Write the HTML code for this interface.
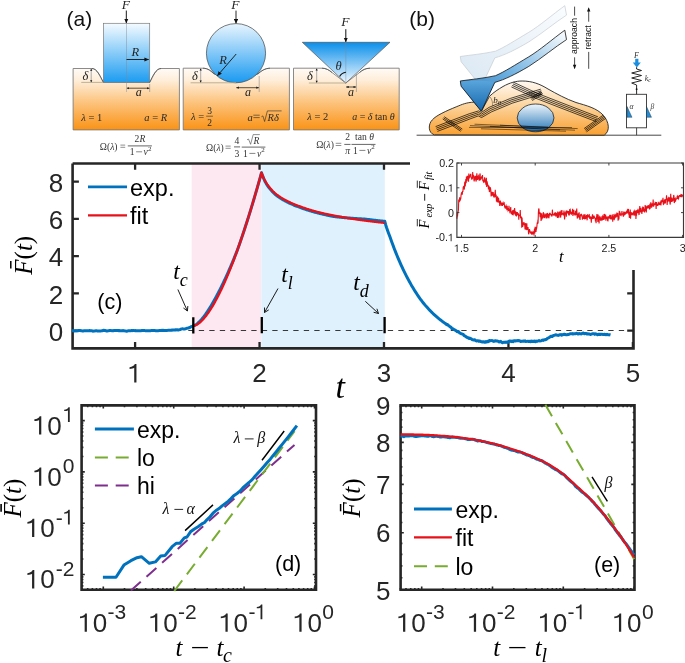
<!DOCTYPE html>
<html><head><meta charset="utf-8"><style>
html,body{margin:0;padding:0;background:#fff;}
svg{display:block;will-change:transform;}
text{font-family:'Liberation Sans',sans-serif;}
.sr{font-family:'Liberation Serif',serif;}
.it{font-style:italic;}
</style></head><body>
<svg width="685" height="663" viewBox="0 0 685 663">
<defs>
<linearGradient id="gOr" x1="0" y1="0" x2="0" y2="1"><stop offset="0" stop-color="#fffbf6"/><stop offset="0.2" stop-color="#feedd8"/><stop offset="0.55" stop-color="#fcc47e"/><stop offset="1" stop-color="#f99316"/></linearGradient>
<linearGradient id="gBl" x1="0" y1="0" x2="0" y2="1"><stop offset="0" stop-color="#f4fbff"/><stop offset="1" stop-color="#1c9cf0"/></linearGradient>
<linearGradient id="gBlS" x1="0" y1="0" x2="0" y2="1"><stop offset="0" stop-color="#e8f5fe"/><stop offset="1" stop-color="#1a9af0"/></linearGradient>
<linearGradient id="gBlC" x1="0" y1="0" x2="0" y2="1"><stop offset="0" stop-color="#0b8fea"/><stop offset="1" stop-color="#f2f9ff"/></linearGradient>
<linearGradient id="gCell" x1="0" y1="0" x2="0" y2="1"><stop offset="0" stop-color="#fffaf3"/><stop offset="0.4" stop-color="#fcd9a8"/><stop offset="1" stop-color="#f8a030"/></linearGradient>
<linearGradient id="gNuc" x1="0" y1="0" x2="0" y2="1"><stop offset="0" stop-color="#eef6fc"/><stop offset="1" stop-color="#2a78b8"/></linearGradient>
<linearGradient id="gCant" x1="1" y1="0" x2="0" y2="1"><stop offset="0" stop-color="#ffffff"/><stop offset="0.55" stop-color="#6aaee0"/><stop offset="1" stop-color="#1a6fb3"/></linearGradient>
<linearGradient id="gGhost" x1="1" y1="0" x2="0" y2="1"><stop offset="0" stop-color="#fbfdff"/><stop offset="0.6" stop-color="#e6eff7"/><stop offset="1" stop-color="#d9e7f3"/></linearGradient>
<linearGradient id="gTip" x1="0" y1="0" x2="0" y2="1"><stop offset="0" stop-color="#5aa5dc"/><stop offset="1" stop-color="#1567ad"/></linearGradient>
<marker id="ah" viewBox="0 0 10 10" refX="9" refY="5" markerWidth="5" markerHeight="5" orient="auto-start-reverse"><path d="M0,1 L10,5 L0,9 z" fill="#000"/></marker>
<marker id="ahF" viewBox="0 0 10 10" refX="9" refY="5" markerWidth="5.2" markerHeight="5.2" orient="auto-start-reverse"><path d="M0,0.5 L10,5 L0,9.5 z" fill="#111"/></marker>
<marker id="ahs" viewBox="0 0 10 10" refX="9" refY="5" markerWidth="4" markerHeight="4" orient="auto-start-reverse"><path d="M0,1 L10,5 L0,9 z" fill="#222"/></marker>
</defs>

<text x="66.6" y="26.3" font-size="21" fill="#111">(a)</text>
<path d="M73.1,68.5 H92 C97,68.5 100,76 103.4,82.4 H149.7 C153,76 156,68.5 161,68.5 H179.4 V129.9 H73.1 Z" fill="url(#gOr)" stroke="#777" stroke-width="0.85"/>
<rect x="103.4" y="23.3" width="46.3" height="59.1" fill="url(#gBl)" stroke="#7a7a7a" stroke-width="0.7"/>
<path d="M183.2,68.2 H203 C208,68.2 211,71 214,74 L258,74 C261,71 265,68.2 270,68.2 H289.4 V129.9 H183.2 Z" fill="url(#gOr)" stroke="#777" stroke-width="0.85"/>
<circle cx="236" cy="53.2" r="29.6" fill="url(#gBlS)" stroke="#444" stroke-width="0.7"/>
<path d="M293.5,68.2 H322 C326,68.2 329,70 332,72.5 L345.8,83 L359.5,72.5 C362.5,70 365.5,68.2 370,68.2 H399.2 V129.9 H293.5 Z" fill="url(#gOr)" stroke="#777" stroke-width="0.85"/>
<path d="M302.3,42.3 H390 L345.8,83 Z" fill="url(#gBlC)" stroke="#555" stroke-width="0.7"/>
<path d="M92,68.5 C97,68.5 100,76 103.4,82.4 M149.7,82.4 C153,76 156,68.5 161,68.5 M203,68.2 C208,68.2 211,71 214.5,74.3 M257.5,74.3 C261,71 265,68.2 270,68.2 M322,68.2 C326,68.2 329,70 332,72.5 M359.5,72.5 C362.5,70 365.5,68.2 370,68.2" stroke="#444" stroke-width="0.65" fill="none"/>
<path d="M126.5,11 V92 M345.8,29.2 V84" stroke="#7a8a9a" stroke-width="0.45" fill="none"/>
<path d="M126.3,10.5 V22.9" stroke="#111" stroke-width="0.9" fill="none" marker-end="url(#ahF)"/>
<path d="M236,10.6 V23.2" stroke="#111" stroke-width="0.9" fill="none" marker-end="url(#ahF)"/>
<path d="M345.8,29.2 V41.8" stroke="#111" stroke-width="0.9" fill="none" marker-end="url(#ahF)"/>
<text x="121.8" y="8.8" font-size="13.5" class="sr it" fill="#222">F</text>
<text x="231.2" y="8.6" font-size="13.5" class="sr it" fill="#222">F</text>
<text x="341.3" y="26.4" font-size="13.5" class="sr it" fill="#222">F</text>
<path d="M126.5,59.5 H148.6" stroke="#111" stroke-width="0.9" marker-end="url(#ahF)"/>
<text x="131.6" y="55.5" font-size="12.5" class="sr it" fill="#222">R</text>
<path d="M236.2,54 L217.5,75.6" stroke="#111" stroke-width="0.9" marker-end="url(#ahF)"/>
<text x="219.3" y="63.5" font-size="12.5" class="sr it" fill="#222">R</text>
<path d="M339.6,76.6 A8,8 0 0 1 345.9,72.2" stroke="#111" stroke-width="1.1" fill="none"/>
<text x="335.6" y="69.8" font-size="12.5" class="sr it" fill="#222">θ</text>
<path d="M81.3,82.4 H103.4" stroke="#b8a88c" stroke-width="0.9"/>
<path d="M91.2,68.8 V82.10000000000001" stroke="#8a8a8a" stroke-width="0.7"/>
<path d="M90.10000000000001,70.7 L91.2,68.7 L92.3,70.7 Z M90.10000000000001,80.2 L91.2,82.2 L92.3,80.2 Z" fill="#111"/>
<text x="82.6" y="79.8" font-size="12.5" class="sr it" fill="#222">δ</text>
<path d="M190.6,82.8 H236" stroke="#b8a88c" stroke-width="0.9"/>
<path d="M200.7,68.5 V82.5" stroke="#8a8a8a" stroke-width="0.7"/>
<path d="M199.6,70.4 L200.7,68.4 L201.79999999999998,70.4 Z M199.6,80.6 L200.7,82.6 L201.79999999999998,80.6 Z" fill="#111"/>
<text x="192.1" y="79.8" font-size="12.5" class="sr it" fill="#222">δ</text>
<path d="M308.9,83 H345.8" stroke="#b8a88c" stroke-width="0.9"/>
<path d="M316.7,68.5 V82.7" stroke="#8a8a8a" stroke-width="0.7"/>
<path d="M315.59999999999997,70.4 L316.7,68.4 L317.8,70.4 Z M315.59999999999997,80.8 L316.7,82.8 L317.8,80.8 Z" fill="#111"/>
<text x="307.1" y="79.8" font-size="12.5" class="sr it" fill="#222">δ</text>
<path d="M149.7,84 V92" stroke="#777" stroke-width="0.5"/>
<path d="M126.9,88.2 H149.29999999999998" stroke="#111" stroke-width="0.7" marker-start="url(#ahs)" marker-end="url(#ahs)"/>
<text x="135.7" y="95.9" font-size="12" class="sr it" fill="#222">a</text>
<path d="M259.2,76 V92" stroke="#777" stroke-width="0.5"/>
<path d="M236.4,87.7 H258.8" stroke="#111" stroke-width="0.7" marker-start="url(#ahs)" marker-end="url(#ahs)"/>
<text x="245.0" y="95.9" font-size="12" class="sr it" fill="#222">a</text>
<path d="M356.4,74 V92" stroke="#777" stroke-width="0.5"/>
<path d="M346.2,87 H356.0" stroke="#111" stroke-width="0.7" marker-start="url(#ahs)" marker-end="url(#ahs)"/>
<text x="347.9" y="95.9" font-size="12" class="sr it" fill="#222">a</text>
<text x="81.3" y="120.5" font-size="10.5" class="sr" text-anchor="start" fill="#2a2a2a"><tspan class="it">λ</tspan> = 1</text>
<text x="144.3" y="120.5" font-size="10.5" class="sr" text-anchor="start" fill="#2a2a2a"><tspan class="it">a</tspan> = <tspan class="it">R</tspan></text>
<text x="191.0" y="119.6" font-size="10.5" class="sr" text-anchor="start" fill="#2a2a2a"><tspan class="it">λ</tspan> =</text>
<text x="209.5" y="113.5" font-size="9.5" class="sr" text-anchor="middle" fill="#2a2a2a">3</text><path d="M206.2,116.2 H212.9" stroke="#2a2a2a" stroke-width="0.6"/><text x="209.5" y="126.1" font-size="9.5" class="sr" text-anchor="middle" fill="#2a2a2a">2</text>
<text x="247.6" y="120.5" font-size="10.5" class="sr it" text-anchor="start" fill="#2a2a2a">a</text><path d="M253.4,115.2 H259.7 M253.4,117.6 H259.7" stroke="#2a2a2a" stroke-width="0.6"/>
<path d="M261.4,116.8 L262.9,115.9 L264.6,121.5 L267.4,110.9 H281.6" stroke="#2a2a2a" stroke-width="0.6" fill="none"/>
<text x="267.6" y="120.5" font-size="10.5" class="sr it" text-anchor="start" fill="#2a2a2a">Rδ</text>
<text x="307.2" y="120.4" font-size="10.5" class="sr" text-anchor="start" fill="#2a2a2a"><tspan class="it">λ</tspan> = 2</text>
<text x="352.2" y="120.4" font-size="10.0" class="sr" text-anchor="start" fill="#2a2a2a"><tspan class="it">a</tspan> = <tspan class="it">δ</tspan> tan <tspan class="it">θ</tspan></text>
<text x="99.8" y="149.8" font-size="9.6" class="sr" text-anchor="start" fill="#333">Ω(<tspan class="it">λ</tspan>)</text><path d="M120.4,145.1 H125.2 M120.4,147.29999999999998 H125.2" stroke="#333" stroke-width="0.55"/><path d="M127.8,145.9 H151.9" stroke="#333" stroke-width="0.75"/><text x="134.6" y="141.8" font-size="9.6" class="sr" text-anchor="start" fill="#333">2<tspan class="it">R</tspan></text><text x="129.8" y="155" font-size="9.6" class="sr" text-anchor="start" fill="#333">1</text><path d="M136.10000000000002,151.8 H142.10000000000002" stroke="#333" stroke-width="0.6"/><text x="143.60000000000002" y="155" font-size="9.6" class="sr it" text-anchor="start" fill="#333">ν</text><text x="148.0" y="150.7" font-size="7" class="sr" text-anchor="start" fill="#333">2</text>
<text x="206.1" y="150.5" font-size="9.6" class="sr" text-anchor="start" fill="#333">Ω(<tspan class="it">λ</tspan>)</text><path d="M225.5,146.1 H230.7 M225.5,148.29999999999998 H230.7" stroke="#333" stroke-width="0.55"/><path d="M234.0,146.9 H240.1" stroke="#333" stroke-width="0.75"/><text x="237" y="143.8" font-size="9.6" class="sr" text-anchor="middle" fill="#333">4</text><text x="237" y="156.6" font-size="9.6" class="sr" text-anchor="middle" fill="#333">3</text>
<path d="M247,139.8 L248.5,139 L250.6,144.3 L253.2,134.6 H259.8" stroke="#333" stroke-width="0.55" fill="none"/><text x="253.4" y="143.8" font-size="9.6" class="sr it" text-anchor="start" fill="#333">R</text><path d="M241.7,147.1 H265.4" stroke="#333" stroke-width="0.75"/><text x="243.1" y="156.6" font-size="9.6" class="sr" text-anchor="start" fill="#333">1</text><path d="M249.4,153.4 H255.4" stroke="#333" stroke-width="0.6"/><text x="256.9" y="156.6" font-size="9.6" class="sr it" text-anchor="start" fill="#333">ν</text><text x="261.3" y="152.29999999999998" font-size="7" class="sr" text-anchor="start" fill="#333">2</text>
<text x="316.2" y="147.6" font-size="9.6" class="sr" text-anchor="start" fill="#333">Ω(<tspan class="it">λ</tspan>)</text><path d="M335.7,143.3 H341.3 M335.7,145.5 H341.3" stroke="#333" stroke-width="0.55"/><path d="M344.3,144.4 H350.5" stroke="#333" stroke-width="0.75"/><text x="347.6" y="140.3" font-size="9.6" class="sr" text-anchor="middle" fill="#333">2</text><text x="347.6" y="153.6" font-size="9.6" class="sr it" text-anchor="middle" fill="#333">π</text>
<text x="355.1" y="140.3" font-size="9.6" class="sr" text-anchor="start" fill="#333">tan <tspan class="it">θ</tspan></text><path d="M351.5,144.4 H375.5" stroke="#333" stroke-width="0.75"/><text x="353.1" y="153.6" font-size="9.6" class="sr" text-anchor="start" fill="#333">1</text><path d="M359.40000000000003,150.4 H365.40000000000003" stroke="#333" stroke-width="0.6"/><text x="366.90000000000003" y="153.6" font-size="9.6" class="sr it" text-anchor="start" fill="#333">ν</text><text x="371.3" y="149.29999999999998" font-size="7" class="sr" text-anchor="start" fill="#333">2</text>
<text x="409.3" y="26.3" font-size="21" fill="#111">(b)</text>
<path d="M416.6,135.2 H661.3" stroke="#333" stroke-width="0.9"/>
<path d="M434.3,134.8 C428,133 428,124 432.3,119.9 C436,115.5 446,111 456.8,106.6 C462,104.5 466,102.5 474.2,102.1 L481.5,111 L489.5,96.3 C494,92 498,89.5 503,86.5 C510,82.6 516,81 522.2,81 C532,81 540,84 548,89 C556,93.5 566,99 576,102.5 C586,105.5 597,108 603.5,115.5 C609,122 610.5,131 604.2,135.2 Z" fill="url(#gCell)" stroke="#222" stroke-width="0.9"/>
<path d="M435.59,126.62 L469.15,113.80 L478.72,110.86 L481.42,112.45 L489.14,107.33 L510.43,98.40 L528.06,92.96 L540.77,89.16 M436.20,128.21 L469.72,115.40 L478.57,112.55 L481.47,114.15 L489.91,108.84 L511.01,100.00 L528.55,94.59 L541.26,90.79 M436.80,129.79 L470.28,117.00 L478.43,114.25 L481.53,115.85 L490.69,110.36 L511.59,101.60 L529.05,96.21 L541.74,92.41 M437.41,131.38 L470.85,118.60 L478.28,115.94 L481.58,117.55 L491.46,111.87 L512.17,103.20 L529.54,97.84 L542.23,94.04 M513.58,82.29 L538.00,93.65 L570.92,106.42 L597.92,116.82 M512.86,83.83 L537.33,95.22 L570.31,108.01 L597.31,118.41 M512.14,85.37 L536.67,96.78 L569.69,109.59 L596.69,119.99 M511.42,86.91 L536.00,98.35 L569.08,111.18 L596.08,121.58 M444.27,116.69 L462.27,129.09 M443.50,117.80 L461.50,130.20 M442.73,118.91 L460.73,131.31 M530.78,98.42 L541.28,91.42 M531.50,99.50 L542.00,92.50 M532.22,100.58 L542.72,93.58 M584.14,128.54 L603.24,115.14 M584.91,129.65 L604.01,116.25 M585.69,130.75 L604.79,117.35 M586.46,131.86 L605.56,118.46 " stroke="#000" stroke-width="0.7" fill="none"/>
<ellipse cx="535.6" cy="117.9" rx="18.4" ry="13.9" fill="url(#gNuc)" stroke="#222" stroke-width="0.8"/>
<path d="M474.5,124.2 L577.7,128.6 M470,125.6 L575,130.2 M469,127.4 L572,127.6 M481,128.8 L566,131.2 M490,126.3 L560,129.9 M500,125.2 L548,127.2 " stroke="#000" stroke-width="0.5" fill="none"/>
<path d="M460.3,81.1 L461.1,86.2 L481.3,111.3 L494.8,82.4 C505,79.5 515,74.5 528.8,66.4 C542,58 555,47 566.5,39.6 L564.8,30.2 C552,39.5 540,50 528.8,56.8 C515,65 505,71.5 495.5,75.7 C483,78.5 470,79.5 460.2,81 Z" transform="translate(0,-24.5)" fill="url(#gGhost)" stroke="#c5ccd3" stroke-width="0.7"/>
<path d="M460.3,81.1 L461.1,86.2 L481.3,111.3 L494.8,82.4 C505,79.5 515,74.5 528.8,66.4 C542,58 555,47 566.5,39.6 L564.8,30.2 C552,39.5 540,50 528.8,56.8 C515,65 505,71.5 495.5,75.7 C483,78.5 470,79.5 460.2,81 Z" fill="url(#gCant)"/>
<path d="M460.3,81.1 L461.1,86.2 L481.3,111.3 L494.8,82.4 C485,80 472,80 460.3,81.1 Z" fill="url(#gTip)"/>
<path d="M460.3,81.1 L461.1,86.2 L481.3,111.3 L494.8,82.4 C505,79.5 515,74.5 528.8,66.4 C542,58 555,47 566.5,39.6 L564.8,30.2 C552,39.5 540,50 528.8,56.8 C515,65 505,71.5 495.5,75.7 C483,78.5 470,79.5 460.2,81 Z" fill="none" stroke="#111" stroke-width="0.8" stroke-linejoin="round"/>
<path d="M490.2,97 C492,99.5 492.8,102.5 492.6,106.2" stroke="#333" stroke-width="0.45" fill="none"/>
<text x="493.2" y="103.2" font-size="9" class="sr it" fill="#222">b<tspan font-size="6.5" dy="1.6">0</tspan></text>
<text transform="translate(577.4,53.9) rotate(-90)" font-size="8.6" fill="#111">approach</text>
<text transform="translate(591.4,49.6) rotate(-90)" font-size="8.6" fill="#111">retract</text>
<path d="M574.6,6.6 V15.7 M574.6,57.3 V68.2 M588.7,8.6 V21.7 M588.7,51.9 V68.8" stroke="#111" stroke-width="0.75"/>
<path d="M572.9,64.8 L574.6,69.2 L576.3,64.8 Z M587,11.6 L588.7,7.2 L590.4,11.6 Z" fill="#111"/>
<text x="634.1" y="57.8" font-size="8" class="sr it" fill="#333">F</text>
<path d="M636.8,58.8 V63" stroke="#1a8fe0" stroke-width="3.2"/><path d="M632.8,62.5 H640.8 L636.8,67.5 Z" fill="#1a8fe0"/>
<path d="M636.6,67.2 L636.6,69 L641.5,70.5 L631.7,73 L641.5,75.5 L631.7,78 L641.5,80.5 L631.7,83 L636.6,85 V94.3" stroke="#111" stroke-width="0.9" fill="none"/>
<circle cx="636.6" cy="89.2" r="0.9" fill="#111"/>
<text x="644.7" y="80.5" font-size="8" class="sr it" fill="#333">k<tspan font-size="6" dy="1.5">c</tspan></text>
<rect x="626.5" y="94.3" width="20" height="33.5" fill="none" stroke="#333" stroke-width="0.9"/>
<path d="M627,106.5 L627,117.3 L632,117.3 Z" fill="#1f8fdc" stroke="#222" stroke-width="0.4"/>
<path d="M646.5,106.5 L646.5,117.3 L651.5,117.3 Z" fill="#1f8fdc" stroke="#222" stroke-width="0.4"/>
<text x="629.6" y="108.5" font-size="7.5" class="sr it" fill="#333">α</text>
<text x="650.4" y="108.5" font-size="7.5" class="sr it" fill="#333">β</text>
<path d="M636.6,127.8 V135.2" stroke="#333" stroke-width="0.9"/>
<rect x="191.7" y="163.5" width="69.7" height="184.89999999999998" fill="#fde8f1"/>
<rect x="261.4" y="163.5" width="123.4" height="184.89999999999998" fill="#def1fd"/>
<path d="M72.6,163.5 V348.4 H633.5 V270 M72.6,163.5 H410" stroke="#262626" stroke-width="2.6" fill="none"/>
<path d="M135.10,348.40V342.10M259.55,348.40V342.10M384.00,348.40V342.10M508.45,348.40V342.10M632.90,348.40V342.10M135.10,163.50V169.80M259.55,163.50V169.80M384.00,163.50V169.80M72.60,330.70H78.90M72.60,293.44H78.90M72.60,256.18H78.90M72.60,218.92H78.90M72.60,181.66H78.90M633.50,330.70H627.20M633.50,293.44H627.20" stroke="#262626" stroke-width="2.3" fill="none"/>
<path d="M188.3,330.5 H633.5" stroke="#222" stroke-width="0.9" stroke-dasharray="5.3,5.2" fill="none"/>
<path d="M71.94,330.53 L72.55,330.67 L73.17,330.69 L73.78,330.85 L74.39,330.88 L75.00,330.94 L75.62,330.80 L76.23,330.82 L76.84,330.89 L77.45,330.82 L78.07,330.71 L78.68,330.57 L79.29,330.54 L79.90,330.47 L80.51,330.57 L81.13,330.75 L81.74,330.81 L82.35,330.89 L82.96,330.95 L83.58,330.93 L84.19,330.70 L84.80,330.76 L85.41,330.75 L86.03,330.72 L86.64,330.65 L87.25,330.78 L87.86,330.85 L88.48,330.79 L89.09,330.68 L89.70,330.58 L90.31,330.66 L90.93,330.65 L91.54,330.70 L92.15,330.93 L92.76,331.15 L93.37,331.13 L93.99,331.00 L94.60,330.95 L95.21,330.89 L95.82,330.77 L96.44,330.73 L97.05,330.94 L97.66,330.97 L98.27,330.90 L98.89,331.01 L99.50,330.98 L100.11,331.02 L100.72,330.99 L101.34,330.87 L101.95,330.75 L102.56,330.67 L103.17,330.41 L103.78,330.28 L104.40,330.44 L105.01,330.44 L105.62,330.66 L106.23,330.79 L106.85,331.05 L107.46,330.88 L108.07,330.85 L108.68,330.72 L109.30,330.55 L109.91,330.45 L110.52,330.52 L111.13,330.61 L111.75,330.67 L112.36,330.77 L112.97,330.58 L113.58,330.67 L114.20,330.61 L114.81,330.54 L115.42,330.44 L116.03,330.55 L116.64,330.42 L117.26,330.44 L117.87,330.41 L118.48,330.65 L119.09,330.58 L119.71,330.73 L120.32,330.76 L120.93,330.74 L121.54,330.69 L122.16,330.79 L122.77,330.60 L123.38,330.62 L123.99,330.73 L124.61,330.88 L125.22,330.97 L125.83,331.10 L126.44,331.13 L127.05,331.14 L127.67,330.89 L128.28,330.86 L128.89,330.83 L129.50,330.74 L130.12,330.73 L130.73,330.78 L131.34,330.57 L131.95,330.50 L132.57,330.65 L133.18,330.59 L133.79,330.52 L134.40,330.59 L135.02,330.64 L135.63,330.59 L136.24,330.63 L136.85,330.63 L137.47,330.69 L138.08,330.74 L138.69,330.72 L139.30,330.69 L139.91,330.68 L140.53,330.76 L141.14,330.68 L141.75,330.60 L142.36,330.53 L142.98,330.65 L143.59,330.49 L144.20,330.58 L144.81,330.61 L145.43,330.70 L146.04,330.76 L146.65,330.84 L147.26,330.77 L147.88,330.80 L148.49,330.72 L149.10,330.64 L149.71,330.71 L150.32,330.74 L150.94,330.59 L151.55,330.54 L152.16,330.53 L152.77,330.43 L153.39,330.44 L154.00,330.61 L154.61,330.60 L155.22,330.60 L155.84,330.76 L156.45,330.78 L157.06,330.74 L157.67,330.78 L158.29,330.64 L158.90,330.56 L159.51,330.43 L160.12,330.39 L160.74,330.40 L161.35,330.42 L161.96,330.32 L162.57,330.43 L163.18,330.36 L163.80,330.43 L164.41,330.47 L165.02,330.49 L165.63,330.38 L166.25,330.49 L166.86,330.38 L167.47,330.38 L168.08,330.28 L168.70,330.35 L169.31,330.26 L169.92,330.25 L170.53,330.31 L171.15,330.15 L171.76,330.07 L172.37,330.15 L172.98,329.99 L173.59,329.93 L174.21,330.06 L174.82,329.95 L175.43,329.84 L176.04,329.92 L176.66,329.83 L177.27,329.81 L177.88,329.93 L178.49,329.91 L179.11,329.82 L179.72,329.63 L180.33,329.50 L180.94,329.17 L181.56,328.94 L182.17,328.87 L182.78,328.86 L183.39,328.95 L184.01,329.04 L184.62,329.05 L185.23,328.86 L185.84,328.67 L186.45,328.42 L187.07,328.24 L187.68,328.11 L188.29,327.97 L188.90,327.82 L189.52,327.55 L190.13,327.35 L190.74,326.87 L191.35,326.54 L191.97,326.31 L192.58,326.12 L193.19,325.78 L193.80,325.63 L193.80,325.67 L194.37,325.48 L194.94,325.22 L195.51,324.90 L196.08,324.54 L196.65,324.14 L197.22,323.70 L197.79,323.23 L198.35,322.73 L198.92,322.20 L199.49,321.65 L200.06,321.06 L200.63,320.45 L201.20,319.82 L201.77,319.17 L202.34,318.49 L202.91,317.79 L203.47,317.08 L204.04,316.34 L204.61,315.58 L205.18,314.81 L205.75,314.01 L206.32,313.20 L206.89,312.38 L207.46,311.54 L208.03,310.68 L208.59,309.80 L209.16,308.92 L209.73,308.01 L210.30,307.10 L210.87,306.16 L211.44,305.22 L212.01,304.26 L212.58,303.29 L213.15,302.31 L213.72,301.31 L214.28,300.30 L214.85,299.28 L215.42,298.25 L215.99,297.20 L216.56,296.15 L217.13,295.08 L217.70,294.00 L218.27,292.91 L218.84,291.81 L219.40,290.70 L219.97,289.58 L220.54,288.45 L221.11,287.31 L221.68,286.15 L222.25,284.99 L222.82,283.81 L223.39,282.63 L223.96,281.43 L224.52,280.23 L225.09,279.01 L225.66,277.78 L226.23,276.55 L226.80,275.30 L227.37,274.04 L227.94,272.77 L228.51,271.49 L229.08,270.20 L229.64,268.90 L230.21,267.58 L230.78,266.26 L231.35,264.93 L231.92,263.58 L232.49,262.22 L233.06,260.86 L233.63,259.48 L234.20,258.08 L234.76,256.68 L235.33,255.27 L235.90,253.84 L236.47,252.40 L237.04,250.95 L237.61,249.44 L238.18,247.85 L238.75,246.24 L239.32,244.63 L239.89,243.00 L240.45,241.36 L241.02,239.71 L241.59,238.05 L242.16,236.38 L242.73,234.69 L243.30,232.99 L243.87,231.28 L244.44,229.56 L245.01,227.82 L245.57,226.08 L246.14,224.32 L246.71,222.55 L247.28,220.77 L247.85,218.98 L248.42,217.18 L248.99,215.37 L249.56,213.54 L250.13,211.70 L250.69,209.86 L251.26,208.00 L251.83,206.13 L252.40,204.25 L252.97,202.36 L253.54,200.45 L254.11,198.54 L254.68,196.62 L255.25,194.68 L255.81,192.74 L256.38,190.78 L256.95,188.81 L257.52,186.83 L258.09,184.84 L258.66,182.85 L259.23,180.84 L259.80,178.82 L260.37,176.78 L260.93,174.74 L261.50,172.69 L261.50,172.72 L262.12,174.48 L262.74,176.15 L263.36,177.71 L263.98,179.16 L264.60,180.48 L265.22,181.71 L265.84,182.87 L266.46,183.96 L267.08,184.97 L267.70,185.93 L268.32,186.77 L268.94,187.58 L269.56,188.37 L270.18,189.13 L270.80,189.87 L271.42,190.58 L272.04,191.27 L272.66,191.93 L273.28,192.56 L273.90,193.17 L274.51,193.74 L275.13,194.29 L275.75,194.80 L276.37,195.30 L276.99,195.78 L277.61,196.25 L278.23,196.69 L278.85,197.13 L279.47,197.55 L280.09,197.96 L280.71,198.35 L281.33,198.74 L281.95,199.11 L282.57,199.48 L283.19,199.84 L283.81,200.19 L284.43,200.53 L285.05,200.87 L285.67,201.21 L286.29,201.53 L286.91,201.86 L287.53,202.17 L288.14,202.48 L288.76,202.79 L289.38,203.08 L290.00,203.37 L290.62,203.66 L291.24,203.94 L291.86,204.21 L292.48,204.48 L293.10,204.74 L293.72,205.00 L294.34,205.26 L294.96,205.51 L295.58,205.75 L296.20,205.99 L296.82,206.23 L297.44,206.47 L298.06,206.71 L298.68,206.94 L299.30,207.17 L299.92,207.40 L300.54,207.62 L301.16,207.85 L301.78,208.07 L302.39,208.29 L303.01,208.51 L303.63,208.72 L304.25,208.93 L304.87,209.14 L305.49,209.35 L306.11,209.56 L306.73,209.76 L307.35,209.96 L307.97,210.16 L308.59,210.36 L309.21,210.55 L309.83,210.74 L310.45,210.93 L311.07,211.12 L311.69,211.30 L312.31,211.48 L312.93,211.66 L313.55,211.84 L314.17,212.01 L314.79,212.18 L315.41,212.35 L316.03,212.51 L316.64,212.68 L317.26,212.84 L317.88,213.00 L318.50,213.15 L319.12,213.31 L319.74,213.46 L320.36,213.61 L320.98,213.76 L321.60,213.91 L322.22,214.05 L322.84,214.20 L323.46,214.34 L324.08,214.48 L324.70,214.62 L325.32,214.76 L325.94,214.89 L326.56,215.03 L327.18,215.16 L327.80,215.29 L328.42,215.42 L329.04,215.55 L329.66,215.68 L330.28,215.80 L330.89,215.93 L331.51,216.05 L332.13,216.18 L332.75,216.30 L333.37,216.42 L333.99,216.54 L334.61,216.63 L335.23,216.70 L335.85,216.77 L336.47,216.84 L337.09,216.90 L337.71,216.97 L338.33,217.04 L338.95,217.10 L339.57,217.17 L340.19,217.23 L340.81,217.29 L341.43,217.35 L342.05,217.41 L342.67,217.47 L343.29,217.53 L343.91,217.59 L344.53,217.65 L345.14,217.70 L345.76,217.76 L346.38,217.81 L347.00,217.87 L347.62,217.92 L348.24,217.97 L348.86,218.02 L349.48,218.07 L350.10,218.12 L350.72,218.17 L351.34,218.22 L351.96,218.26 L352.58,218.31 L353.20,218.35 L353.82,218.40 L354.44,218.44 L355.06,218.48 L355.68,218.52 L356.30,218.56 L356.92,218.60 L357.54,218.64 L358.16,218.68 L358.77,218.72 L359.39,218.76 L360.01,218.79 L360.63,218.83 L361.25,218.87 L361.87,218.90 L362.49,218.94 L363.11,218.97 L363.73,219.01 L364.35,219.04 L364.97,219.07 L365.59,219.13 L366.21,219.21 L366.83,219.29 L367.45,219.37 L368.07,219.45 L368.69,219.53 L369.31,219.60 L369.93,219.68 L370.55,219.76 L371.17,219.83 L371.79,219.91 L372.41,219.98 L373.02,220.06 L373.64,220.13 L374.26,220.21 L374.88,220.28 L375.50,220.35 L376.12,220.42 L376.74,220.49 L377.36,220.56 L377.98,220.63 L378.60,220.70 L379.22,220.77 L379.84,220.83 L380.46,220.90 L381.08,220.97 L381.70,221.03 L382.32,221.09 L382.94,221.16 L383.56,221.22 L384.18,221.28 L384.80,221.34 L384.80,221.34 L385.67,224.69 L386.54,227.50 L387.41,230.04 L388.28,232.41 L389.15,234.72 L390.03,237.07 L390.90,239.49 L391.77,241.90 L392.64,244.28 L393.51,246.62 L394.38,248.92 L395.25,251.16 L396.13,253.34 L397.00,255.46 L397.87,257.55 L398.74,259.61 L399.61,261.64 L400.48,263.62 L401.35,265.56 L402.23,267.46 L403.10,269.32 L403.97,271.13 L404.84,272.89 L405.71,274.62 L406.58,276.32 L407.45,277.99 L408.33,279.64 L409.20,281.25 L410.07,282.83 L410.94,284.37 L411.81,285.89 L412.68,287.36 L413.55,288.81 L414.43,290.21 L415.30,291.58 L416.17,292.92 L417.04,294.25 L417.91,295.54 L418.78,296.82 L419.65,298.06 L420.53,299.27 L421.40,300.46 L422.27,301.61 L423.14,302.73 L424.01,303.81 L424.88,304.86 L425.75,305.88 L426.63,306.87 L427.50,307.84 L428.37,308.79 L429.24,309.72 L430.11,310.62 L430.98,311.51 L431.85,312.38 L432.73,313.23 L433.60,314.05 L434.47,314.86 L435.34,315.65 L436.21,316.43 L437.08,317.18 L437.95,317.92 L438.83,318.64 L439.70,319.33 L440.57,320.01 L441.44,320.68 L442.31,321.33 L443.18,321.96 L444.05,322.59 L444.93,323.21 L445.80,323.83 L446.67,324.68 L447.54,324.59 L448.41,325.51 L449.28,326.07 L450.15,326.85 L451.03,327.23 L451.90,328.61 L452.77,328.66 L453.64,329.44 L454.51,329.75 L455.38,330.39 L456.25,330.75 L457.13,331.68 L458.00,331.44 L458.87,331.81 L459.74,333.01 L460.61,333.45 L461.48,333.85 L462.35,334.06 L463.23,334.35 L464.10,335.70 L464.97,336.01 L465.84,336.61 L466.71,337.11 L467.58,337.77 L468.45,337.69 L469.33,338.56 L470.20,338.18 L471.07,338.68 L471.94,339.52 L472.81,339.80 L473.68,339.95 L474.55,339.64 L475.43,340.50 L476.30,340.91 L477.17,340.73 L478.04,340.83 L478.91,341.36 L479.78,340.98 L480.65,341.59 L481.53,341.70 L482.40,342.12 L483.27,341.86 L484.14,341.84 L485.01,342.34 L485.88,341.51 L486.75,341.97 L487.63,341.34 L488.50,341.61 L489.37,340.51 L490.24,340.87 L491.11,340.62 L491.98,340.54 L492.85,341.13 L493.73,341.41 L494.60,340.92 L495.47,340.68 L496.34,341.04 L497.21,341.01 L498.08,341.13 L498.95,341.99 L499.83,341.67 L500.70,341.36 L501.57,342.21 L502.44,342.73 L503.31,342.29 L504.18,342.38 L505.05,342.10 L505.93,342.39 L506.80,342.00 L507.67,342.50 L508.54,341.47 L509.41,341.09 L510.28,341.00 L511.16,341.61 L512.03,340.95 L512.90,341.74 L513.77,340.74 L514.64,340.78 L515.51,341.04 L516.38,340.68 L517.26,340.75 L518.13,340.56 L519.00,340.82 L519.87,340.83 L520.74,341.49 L521.61,341.32 L522.48,341.18 L523.36,341.02 L524.23,341.16 L525.10,340.79 L525.97,341.51 L526.84,341.38 L527.71,341.29 L528.58,341.47 L529.46,341.30 L530.33,341.63 L531.20,341.10 L532.07,341.59 L532.94,341.19 L533.81,341.49 L534.68,341.01 L535.56,341.75 L536.43,341.12 L537.30,341.27 L538.17,340.95 L539.04,340.53 L539.91,341.02 L540.78,340.89 L541.66,340.60 L542.53,340.05 L543.40,340.43 L544.27,339.65 L545.14,339.80 L546.01,339.52 L546.88,338.93 L547.76,338.20 L548.63,337.90 L549.50,337.25 L550.37,336.56 L551.24,336.16 L552.11,336.53 L552.98,335.76 L553.86,335.50 L554.73,335.12 L555.60,334.77 L556.47,335.08 L557.34,335.17 L558.21,335.41 L559.08,335.06 L559.96,334.81 L560.83,334.62 L561.70,335.16 L562.57,334.79 L563.44,334.56 L564.31,334.20 L565.18,334.57 L566.06,334.71 L566.93,334.66 L567.80,334.49 L568.67,334.48 L569.54,333.98 L570.41,333.82 L571.28,333.84 L572.16,333.62 L573.03,334.01 L573.90,333.70 L574.77,333.84 L575.64,333.66 L576.51,333.28 L577.38,333.58 L578.26,334.06 L579.13,333.58 L580.00,333.70 L580.87,333.92 L581.74,333.73 L582.61,333.26 L583.48,333.09 L584.36,333.74 L585.23,333.38 L586.10,333.38 L586.97,334.10 L587.84,333.85 L588.71,333.92 L589.58,333.92 L590.46,334.48 L591.33,334.19 L592.20,333.85 L593.07,333.84 L593.94,333.71 L594.81,334.35 L595.68,333.76 L596.56,334.13 L597.43,334.72 L598.30,334.15 L599.17,334.49 L600.04,334.27 L600.91,334.47 L601.78,334.13 L602.66,334.41 L603.53,334.59 L604.40,334.26 L605.27,334.47 L606.14,334.68 L607.01,334.22 L607.88,334.70 L608.76,334.78 L609.63,334.76 L610.50,335.02" stroke="#0072BD" stroke-width="3.0" fill="none" stroke-linejoin="round"/>
<path d="M193.80,325.67 L194.37,325.60 L194.94,325.45 L195.51,325.25 L196.08,325.00 L196.65,324.71 L197.22,324.39 L197.79,324.03 L198.35,323.63 L198.92,323.21 L199.49,322.76 L200.06,322.28 L200.63,321.78 L201.20,321.24 L201.77,320.69 L202.34,320.10 L202.91,319.50 L203.47,318.87 L204.04,318.22 L204.61,317.55 L205.18,316.85 L205.75,316.14 L206.32,315.40 L206.89,314.64 L207.46,313.86 L208.03,313.07 L208.59,312.25 L209.16,311.42 L209.73,310.56 L210.30,309.69 L210.87,308.80 L211.44,307.89 L212.01,306.96 L212.58,306.02 L213.15,305.06 L213.72,304.08 L214.28,303.08 L214.85,302.07 L215.42,301.04 L215.99,300.00 L216.56,298.94 L217.13,297.86 L217.70,296.77 L218.27,295.66 L218.84,294.53 L219.40,293.39 L219.97,292.24 L220.54,291.07 L221.11,289.88 L221.68,288.68 L222.25,287.47 L222.82,286.24 L223.39,284.99 L223.96,283.73 L224.52,282.46 L225.09,281.17 L225.66,279.87 L226.23,278.56 L226.80,277.23 L227.37,275.88 L227.94,274.53 L228.51,273.15 L229.08,271.77 L229.64,270.37 L230.21,268.96 L230.78,267.54 L231.35,266.10 L231.92,264.65 L232.49,263.19 L233.06,261.71 L233.63,260.22 L234.20,258.72 L234.76,257.20 L235.33,255.67 L235.90,254.13 L236.47,252.58 L237.04,251.02 L237.61,249.44 L238.18,247.85 L238.75,246.24 L239.32,244.63 L239.89,243.00 L240.45,241.36 L241.02,239.71 L241.59,238.05 L242.16,236.38 L242.73,234.69 L243.30,232.99 L243.87,231.28 L244.44,229.56 L245.01,227.82 L245.57,226.08 L246.14,224.32 L246.71,222.55 L247.28,220.77 L247.85,218.98 L248.42,217.18 L248.99,215.37 L249.56,213.54 L250.13,211.70 L250.69,209.86 L251.26,208.00 L251.83,206.13 L252.40,204.25 L252.97,202.36 L253.54,200.45 L254.11,198.54 L254.68,196.62 L255.25,194.68 L255.81,192.74 L256.38,190.78 L256.95,188.81 L257.52,186.83 L258.09,184.84 L258.66,182.85 L259.23,180.84 L259.80,178.82 L260.37,176.78 L260.93,174.74 L261.50,172.72 L261.50,172.72 L262.12,174.39 L262.74,175.96 L263.36,177.44 L263.98,178.79 L264.60,180.01 L265.22,181.16 L265.84,182.22 L266.46,183.22 L267.08,184.14 L267.70,185.00 L268.32,185.84 L268.94,186.65 L269.56,187.44 L270.18,188.20 L270.80,188.94 L271.42,189.65 L272.04,190.34 L272.66,191.00 L273.28,191.63 L273.90,192.23 L274.51,192.81 L275.13,193.35 L275.75,193.87 L276.37,194.37 L276.99,194.85 L277.61,195.31 L278.23,195.76 L278.85,196.20 L279.47,196.62 L280.09,197.02 L280.71,197.42 L281.33,197.81 L281.95,198.18 L282.57,198.55 L283.19,198.90 L283.81,199.26 L284.43,199.60 L285.05,199.94 L285.67,200.27 L286.29,200.60 L286.91,200.93 L287.53,201.24 L288.14,201.55 L288.76,201.85 L289.38,202.15 L290.00,202.44 L290.62,202.73 L291.24,203.01 L291.86,203.28 L292.48,203.55 L293.10,203.81 L293.72,204.07 L294.34,204.33 L294.96,204.58 L295.58,204.82 L296.20,205.06 L296.82,205.30 L297.44,205.54 L298.06,205.77 L298.68,206.01 L299.30,206.24 L299.92,206.47 L300.54,206.69 L301.16,206.92 L301.78,207.14 L302.39,207.36 L303.01,207.57 L303.63,207.79 L304.25,208.00 L304.87,208.21 L305.49,208.42 L306.11,208.63 L306.73,208.83 L307.35,209.03 L307.97,209.23 L308.59,209.43 L309.21,209.62 L309.83,209.81 L310.45,210.00 L311.07,210.19 L311.69,210.37 L312.31,210.55 L312.93,210.73 L313.55,210.90 L314.17,211.08 L314.79,211.25 L315.41,211.42 L316.03,211.58 L316.64,211.74 L317.26,211.91 L317.88,212.06 L318.50,212.22 L319.12,212.38 L319.74,212.53 L320.36,212.68 L320.98,212.83 L321.60,212.98 L322.22,213.12 L322.84,213.27 L323.46,213.41 L324.08,213.55 L324.70,213.69 L325.32,213.82 L325.94,213.96 L326.56,214.09 L327.18,214.23 L327.80,214.36 L328.42,214.49 L329.04,214.62 L329.66,214.75 L330.28,214.87 L330.89,215.00 L331.51,215.12 L332.13,215.25 L332.75,215.37 L333.37,215.49 L333.99,215.61 L334.61,215.73 L335.23,215.85 L335.85,215.96 L336.47,216.08 L337.09,216.20 L337.71,216.31 L338.33,216.43 L338.95,216.54 L339.57,216.65 L340.19,216.76 L340.81,216.87 L341.43,216.98 L342.05,217.09 L342.67,217.20 L343.29,217.31 L343.91,217.41 L344.53,217.52 L345.14,217.62 L345.76,217.73 L346.38,217.83 L347.00,217.93 L347.62,218.03 L348.24,218.13 L348.86,218.23 L349.48,218.33 L350.10,218.42 L350.72,218.52 L351.34,218.62 L351.96,218.71 L352.58,218.81 L353.20,218.90 L353.82,218.99 L354.44,219.08 L355.06,219.17 L355.68,219.26 L356.30,219.35 L356.92,219.44 L357.54,219.53 L358.16,219.61 L358.77,219.70 L359.39,219.78 L360.01,219.87 L360.63,219.95 L361.25,220.04 L361.87,220.12 L362.49,220.21 L363.11,220.29 L363.73,220.37 L364.35,220.45 L364.97,220.54 L365.59,220.62 L366.21,220.70 L366.83,220.78 L367.45,220.86 L368.07,220.94 L368.69,221.02 L369.31,221.09 L369.93,221.17 L370.55,221.25 L371.17,221.32 L371.79,221.40 L372.41,221.48 L373.02,221.55 L373.64,221.62 L374.26,221.70 L374.88,221.77 L375.50,221.84 L376.12,221.91 L376.74,221.98 L377.36,222.05 L377.98,222.12 L378.60,222.19 L379.22,222.26 L379.84,222.32 L380.46,222.39 L381.08,222.46 L381.70,222.52 L382.32,222.58 L382.94,222.65 L383.56,222.71 L384.18,222.77 L384.80,222.83" stroke="#E8111A" stroke-width="2.4" fill="none" stroke-linejoin="round"/>
<path d="M193.3,317.2 V333.6 M261.8,317 V333.2 M384.6,317 V333.2" stroke="#000" stroke-width="2.3"/>
<path d="M136.45,382.40 L136.45,364.12 L134.84,364.12 C134.16,365.76 132.29,367.01 129.56,367.27 L129.56,368.93 C131.77,368.93 133.38,368.52 134.22,367.79 L134.22,382.40 Z" fill="#262626"/>
<text x="252.32" y="382.40" font-size="26" fill="#262626">2</text>
<text x="376.77" y="382.40" font-size="26" fill="#262626">3</text>
<text x="501.22" y="382.40" font-size="26" fill="#262626">4</text>
<text x="625.67" y="382.40" font-size="26" fill="#262626">5</text>
<text x="48.84" y="340.90" font-size="26" fill="#262626">0</text>
<text x="48.84" y="303.64" font-size="26" fill="#262626">2</text>
<text x="48.84" y="266.38" font-size="26" fill="#262626">4</text>
<text x="48.84" y="229.12" font-size="26" fill="#262626">6</text>
<text x="48.84" y="191.86" font-size="26" fill="#262626">8</text>
<path d="M88,186.9 H127" stroke="#0072BD" stroke-width="2.7"/><path d="M88,215.4 H127" stroke="#E8111A" stroke-width="2.4"/>
<text x="130" y="195.8" font-size="23.5" fill="#000">exp.</text><text x="130" y="224.2" font-size="23.5" fill="#000">fit</text>
<text x="97.3" y="309" font-size="21.5" fill="#000">(c)</text>
<text x="173.2" y="279.2" font-size="23.5" class="sr it" fill="#000">t<tspan font-size="18" dy="6.4">c</tspan></text>
<text x="281.3" y="282.3" font-size="23.5" class="sr it" fill="#000">t<tspan font-size="18" dy="6.7">l</tspan></text>
<text x="353.3" y="290.4" font-size="23.5" class="sr it" fill="#000">t<tspan font-size="18" dy="6.3">d</tspan></text>
<path d="M177.90,289.50 L187.40,311.00 M187.85,306.02 L187.40,311.00 L183.42,307.98 M278.00,288.50 L264.50,312.50 M268.76,309.88 L264.50,312.50 L264.53,307.50 M365.30,301.30 L378.50,313.50 M376.93,308.75 L378.50,313.50 L373.64,312.31" stroke="#111" stroke-width="0.95" fill="none"/>
<text transform="translate(31.5,274.7) rotate(-90)" font-size="25" class="sr it" fill="#000">F<tspan class="" font-style="normal">(</tspan>t<tspan font-style="normal">)</tspan></text>
<path d="M10.8,261 V268.6" stroke="#000" stroke-width="1.5"/>
<text x="335.5" y="397.9" font-size="34" class="sr it" fill="#000">t</text>
<rect x="410" y="155" width="275" height="114.5" fill="#fff"/>
<path d="M456.93,218.73 L457.23,212.39 L457.53,216.51 L457.82,212.53 L458.12,211.83 L458.42,210.14 L458.71,200.14 L459.01,200.13 L459.31,202.31 L459.61,197.19 L459.90,201.08 L460.20,200.04 L460.50,199.35 L460.80,198.36 L461.09,194.83 L461.39,193.33 L461.69,192.64 L461.99,193.09 L462.28,194.67 L462.58,191.03 L462.88,191.92 L463.17,187.22 L463.47,187.03 L463.77,185.78 L464.07,187.28 L464.36,189.56 L464.66,182.91 L464.96,181.50 L465.26,186.37 L465.55,182.13 L465.85,179.11 L466.15,183.14 L466.44,176.46 L466.74,180.30 L467.04,181.30 L467.34,175.71 L467.63,177.67 L467.93,179.38 L468.23,175.88 L468.53,181.61 L468.82,173.43 L469.12,178.78 L469.42,176.28 L469.72,177.60 L470.01,175.75 L470.31,174.77 L470.61,175.41 L470.90,175.01 L471.20,177.33 L471.50,178.21 L471.80,177.30 L472.09,179.02 L472.39,178.66 L472.69,172.10 L472.99,177.48 L473.28,174.85 L473.58,176.44 L473.88,179.61 L474.18,181.53 L474.47,179.06 L474.77,177.13 L475.07,177.73 L475.36,179.56 L475.66,175.71 L475.96,181.55 L476.26,180.53 L476.55,177.61 L476.85,173.26 L477.15,177.01 L477.45,180.00 L477.74,176.63 L478.04,176.44 L478.34,175.90 L478.64,178.74 L478.93,179.57 L479.23,180.61 L479.53,177.00 L479.82,174.51 L480.12,173.48 L480.42,179.43 L480.72,178.98 L481.01,178.01 L481.31,178.41 L481.61,176.86 L481.91,176.86 L482.20,177.34 L482.50,175.07 L482.80,181.27 L483.10,180.25 L483.39,181.43 L483.69,180.43 L483.99,180.62 L484.28,182.56 L484.58,177.37 L484.88,178.58 L485.18,180.09 L485.47,181.46 L485.77,183.48 L486.07,182.77 L486.37,177.71 L486.66,187.07 L486.96,182.93 L487.26,182.42 L487.56,184.45 L487.85,186.22 L488.15,184.77 L488.45,189.54 L488.74,186.83 L489.04,185.68 L489.34,191.48 L489.64,191.54 L489.93,187.05 L490.23,188.69 L490.53,188.39 L490.83,190.19 L491.12,196.40 L491.42,194.74 L491.72,192.25 L492.01,192.27 L492.31,195.74 L492.61,193.59 L492.91,193.30 L493.20,192.08 L493.50,196.65 L493.80,193.69 L494.10,197.64 L494.39,196.42 L494.69,196.06 L494.99,193.11 L495.29,189.77 L495.58,196.68 L495.88,196.64 L496.18,196.03 L496.47,201.49 L496.77,197.46 L497.07,202.12 L497.37,196.47 L497.66,197.22 L497.96,199.53 L498.26,202.60 L498.56,197.68 L498.85,200.94 L499.15,201.53 L499.45,200.81 L499.75,205.90 L500.04,201.65 L500.34,200.72 L500.64,202.37 L500.93,203.05 L501.23,205.65 L501.53,202.57 L501.83,203.79 L502.12,204.48 L502.42,205.97 L502.72,203.26 L503.02,202.72 L503.31,204.80 L503.61,203.99 L503.91,203.34 L504.21,203.02 L504.50,206.12 L504.80,207.26 L505.10,207.89 L505.39,207.19 L505.69,206.25 L505.99,205.63 L506.29,208.69 L506.58,207.66 L506.88,210.26 L507.18,205.68 L507.48,209.36 L507.77,207.96 L508.07,210.42 L508.37,209.72 L508.67,210.72 L508.96,205.86 L509.26,208.88 L509.56,210.17 L509.85,211.99 L510.15,211.46 L510.45,209.16 L510.75,207.02 L511.04,213.73 L511.34,212.83 L511.64,211.45 L511.94,212.59 L512.23,214.95 L512.53,211.60 L512.83,210.24 L513.12,215.33 L513.42,211.74 L513.72,210.33 L514.02,210.47 L514.31,213.60 L514.61,208.01 L514.91,211.86 L515.21,214.89 L515.50,211.26 L515.80,215.86 L516.10,211.77 L516.40,216.50 L516.69,212.36 L516.99,215.47 L517.29,212.08 L517.58,213.15 L517.88,214.03 L518.18,215.12 L518.48,213.24 L518.77,219.64 L519.07,215.25 L519.37,215.63 L519.67,215.68 L519.96,215.55 L520.26,209.97 L520.56,218.04 L520.86,217.13 L521.15,219.06 L521.45,216.63 L521.75,227.75 L522.04,217.49 L522.34,223.04 L522.64,226.87 L522.94,224.84 L523.23,223.35 L523.53,222.94 L523.83,223.78 L524.13,222.27 L524.42,224.36 L524.72,224.70 L525.02,229.36 L525.32,224.10 L525.61,223.29 L525.91,226.61 L526.21,230.02 L526.50,229.24 L526.80,223.29 L527.10,228.52 L527.40,229.07 L527.69,229.85 L527.99,227.14 L528.29,230.28 L528.59,234.30 L528.88,233.18 L529.18,230.81 L529.48,229.10 L529.78,232.15 L530.07,230.56 L530.37,232.57 L530.67,233.03 L530.96,233.23 L531.26,233.61 L531.56,231.49 L531.86,232.55 L532.15,234.69 L532.45,233.05 L532.75,233.31 L533.05,231.93 L533.34,232.36 L533.64,231.63 L533.94,235.35 L534.24,231.02 L534.53,228.54 L534.83,233.57 L535.13,226.74 L535.42,228.86 L535.72,229.27 L536.02,231.92 L536.32,227.98 L536.61,228.40 L536.91,226.32 L537.21,222.61 L537.51,223.87 L537.80,221.35 L538.10,221.92 L538.40,212.63 L538.69,208.44 L538.99,209.17 L539.29,213.26 L539.59,213.18 L539.88,213.71 L540.18,217.28 L540.48,212.60 L540.78,216.39 L541.07,220.87 L541.37,218.91 L541.67,213.18 L541.97,219.31 L542.26,217.21 L542.56,215.29 L542.86,218.31 L543.15,213.62 L543.45,212.21 L543.75,217.39 L544.05,213.19 L544.34,217.40 L544.64,217.57 L544.94,214.90 L545.24,214.86 L545.53,216.57 L545.83,213.49 L546.13,218.32 L546.43,216.98 L546.72,217.41 L547.02,213.50 L547.32,213.37 L547.61,213.62 L547.91,217.72 L548.21,214.67 L548.51,213.95 L548.80,218.29 L549.10,216.59 L549.40,213.46 L549.70,213.31 L549.99,214.23 L550.29,213.59 L550.59,214.02 L550.89,214.36 L551.18,214.88 L551.48,216.46 L551.78,215.11 L552.07,215.42 L552.37,209.66 L552.67,213.97 L552.97,214.51 L553.26,214.95 L553.56,214.68 L553.86,214.98 L554.16,213.23 L554.45,214.41 L554.75,212.61 L555.05,215.76 L555.35,213.52 L555.64,212.38 L555.94,216.63 L556.24,213.81 L556.53,213.61 L556.83,214.80 L557.13,215.08 L557.43,217.93 L557.72,211.56 L558.02,215.90 L558.32,216.51 L558.62,212.47 L558.91,217.68 L559.21,211.74 L559.51,212.81 L559.80,212.42 L560.10,213.99 L560.40,216.16 L560.70,217.54 L560.99,210.44 L561.29,214.47 L561.59,214.52 L561.89,210.06 L562.18,214.69 L562.48,213.82 L562.78,213.78 L563.08,213.54 L563.37,215.41 L563.67,214.37 L563.97,210.45 L564.26,214.50 L564.56,219.38 L564.86,217.21 L565.16,212.36 L565.45,213.28 L565.75,213.81 L566.05,210.80 L566.35,216.73 L566.64,210.42 L566.94,212.65 L567.24,211.75 L567.54,212.35 L567.83,211.08 L568.13,213.37 L568.43,213.97 L568.72,211.16 L569.02,212.42 L569.32,215.42 L569.62,209.91 L569.91,210.18 L570.21,209.68 L570.51,212.54 L570.81,211.95 L571.10,213.48 L571.40,214.72 L571.70,212.52 L572.00,212.27 L572.29,214.03 L572.59,208.77 L572.89,216.02 L573.18,214.33 L573.48,214.02 L573.78,209.88 L574.08,213.14 L574.37,213.28 L574.67,214.48 L574.97,214.29 L575.27,215.53 L575.56,210.77 L575.86,211.80 L576.16,211.19 L576.46,214.88 L576.75,208.43 L577.05,216.04 L577.35,218.57 L577.64,215.12 L577.94,214.49 L578.24,213.45 L578.54,217.46 L578.83,214.33 L579.13,212.22 L579.43,217.84 L579.73,217.81 L580.02,220.02 L580.32,216.08 L580.62,214.90 L580.91,215.18 L581.21,215.08 L581.51,213.90 L581.81,216.66 L582.10,214.95 L582.40,219.00 L582.70,218.70 L583.00,216.55 L583.29,218.82 L583.59,215.91 L583.89,214.24 L584.19,216.32 L584.48,218.74 L584.78,218.79 L585.08,214.35 L585.37,218.93 L585.67,217.08 L585.97,217.83 L586.27,217.20 L586.56,215.01 L586.86,218.48 L587.16,220.34 L587.46,214.32 L587.75,216.93 L588.05,215.89 L588.35,217.48 L588.65,215.83 L588.94,214.82 L589.24,214.63 L589.54,218.12 L589.83,218.31 L590.13,216.77 L590.43,217.20 L590.73,216.48 L591.02,219.21 L591.32,222.65 L591.62,216.84 L591.92,219.16 L592.21,216.52 L592.51,214.42 L592.81,216.17 L593.11,218.83 L593.40,215.97 L593.70,218.28 L594.00,215.49 L594.29,217.68 L594.59,217.27 L594.89,217.78 L595.19,218.19 L595.48,221.50 L595.78,218.25 L596.08,223.20 L596.38,217.39 L596.67,216.37 L596.97,214.16 L597.27,217.72 L597.57,217.06 L597.86,221.89 L598.16,214.44 L598.46,221.56 L598.75,216.66 L599.05,223.41 L599.35,218.65 L599.65,217.10 L599.94,217.85 L600.24,218.61 L600.54,220.25 L600.84,220.41 L601.13,216.36 L601.43,220.53 L601.73,218.79 L602.03,218.00 L602.32,220.37 L602.62,216.24 L602.92,215.71 L603.21,219.99 L603.51,218.11 L603.81,216.08 L604.11,219.62 L604.40,213.95 L604.70,215.02 L605.00,218.76 L605.30,216.08 L605.59,214.61 L605.89,220.70 L606.19,216.74 L606.48,218.31 L606.78,218.43 L607.08,216.44 L607.38,218.90 L607.67,220.81 L607.97,220.82 L608.27,217.82 L608.57,216.41 L608.86,217.75 L609.16,217.98 L609.46,217.68 L609.76,214.85 L610.05,216.41 L610.35,219.06 L610.65,218.05 L610.94,214.86 L611.24,218.58 L611.54,218.15 L611.84,217.32 L612.13,219.46 L612.43,215.25 L612.73,221.70 L613.03,213.96 L613.32,217.86 L613.62,219.51 L613.92,216.18 L614.22,220.29 L614.51,215.46 L614.81,214.86 L615.11,217.61 L615.40,217.11 L615.70,214.19 L616.00,217.50 L616.30,215.93 L616.59,215.14 L616.89,212.47 L617.19,216.71 L617.49,215.47 L617.78,213.05 L618.08,220.72 L618.38,215.79 L618.68,219.14 L618.97,218.89 L619.27,210.79 L619.57,214.37 L619.86,211.60 L620.16,215.14 L620.46,213.41 L620.76,215.38 L621.05,215.55 L621.35,214.48 L621.65,213.99 L621.95,210.96 L622.24,214.56 L622.54,213.30 L622.84,214.60 L623.14,213.71 L623.43,216.75 L623.73,211.65 L624.03,215.02 L624.32,213.80 L624.62,214.31 L624.92,211.76 L625.22,212.71 L625.51,213.75 L625.81,213.39 L626.11,213.01 L626.41,212.12 L626.70,212.63 L627.00,210.97 L627.30,210.24 L627.59,212.34 L627.89,213.43 L628.19,209.91 L628.49,209.05 L628.78,214.33 L629.08,214.41 L629.38,217.86 L629.68,211.85 L629.97,215.60 L630.27,209.59 L630.57,218.65 L630.87,213.25 L631.16,211.95 L631.46,214.19 L631.76,214.99 L632.05,212.76 L632.35,214.36 L632.65,213.94 L632.95,213.26 L633.24,214.31 L633.54,213.57 L633.84,211.38 L634.14,210.84 L634.43,215.55 L634.73,214.45 L635.03,210.85 L635.33,215.40 L635.62,210.58 L635.92,218.88 L636.22,214.32 L636.51,215.65 L636.81,210.05 L637.11,211.50 L637.41,211.74 L637.70,213.04 L638.00,208.88 L638.30,211.71 L638.60,210.27 L638.89,214.50 L639.19,214.36 L639.49,209.85 L639.79,206.05 L640.08,211.91 L640.38,209.38 L640.68,212.48 L640.97,207.71 L641.27,211.16 L641.57,210.98 L641.87,213.90 L642.16,210.65 L642.46,209.24 L642.76,206.59 L643.06,211.84 L643.35,207.16 L643.65,209.82 L643.95,209.57 L644.25,210.84 L644.54,212.31 L644.84,211.16 L645.14,205.05 L645.43,210.87 L645.73,209.15 L646.03,205.78 L646.33,212.44 L646.62,206.92 L646.92,208.81 L647.22,207.21 L647.52,205.65 L647.81,207.66 L648.11,207.62 L648.41,205.55 L648.70,205.60 L649.00,208.32 L649.30,207.07 L649.60,209.37 L649.89,203.68 L650.19,208.82 L650.49,205.74 L650.79,202.32 L651.08,204.17 L651.38,206.35 L651.68,207.14 L651.98,206.79 L652.27,203.40 L652.57,204.48 L652.87,205.08 L653.16,199.45 L653.46,206.57 L653.76,205.72 L654.06,205.35 L654.35,203.98 L654.65,203.67 L654.95,204.78 L655.25,202.54 L655.54,202.84 L655.84,204.51 L656.14,208.94 L656.44,202.00 L656.73,205.58 L657.03,204.86 L657.33,203.70 L657.62,205.92 L657.92,204.93 L658.22,203.02 L658.52,203.81 L658.81,202.34 L659.11,204.75 L659.41,203.35 L659.71,205.03 L660.00,203.32 L660.30,202.04 L660.60,203.09 L660.90,205.52 L661.19,202.83 L661.49,202.04 L661.79,199.90 L662.08,202.30 L662.38,200.04 L662.68,201.57 L662.98,197.82 L663.27,203.95 L663.57,204.26 L663.87,202.14 L664.17,202.62 L664.46,199.43 L664.76,201.24 L665.06,200.53 L665.36,203.55 L665.65,199.52 L665.95,199.55 L666.25,199.38 L666.54,195.24 L666.84,198.83 L667.14,205.06 L667.44,200.81 L667.73,201.69 L668.03,198.54 L668.33,197.98 L668.63,199.66 L668.92,201.29 L669.22,199.25 L669.52,197.37 L669.82,201.66 L670.11,204.57 L670.41,202.37 L670.71,193.83 L671.00,199.54 L671.30,200.54 L671.60,201.85 L671.90,197.51 L672.19,199.02 L672.49,199.76 L672.79,200.56 L673.09,199.65 L673.38,199.89 L673.68,194.93 L673.98,196.32 L674.27,203.02 L674.57,201.84 L674.87,198.88 L675.17,198.39 L675.46,201.71 L675.76,199.64 L676.06,199.06 L676.36,199.03 L676.65,198.95 L676.95,198.04 L677.25,195.87 L677.55,199.03 L677.84,196.24 L678.14,196.78 L678.44,198.74 L678.73,198.13 L679.03,195.52 L679.33,196.61 L679.63,195.03 L679.92,196.02 L680.22,196.32 L680.52,195.39 L680.82,196.45 L681.11,196.38 L681.41,197.15 L681.71,193.99 L682.01,197.05 L682.30,195.00 L682.60,196.26" stroke="#e8111a" stroke-width="1.1" fill="none"/>
<path d="M456.9,163.0 H683.5 V237.4 H456.9 Z" stroke="#3a3a3a" stroke-width="1.15" fill="none"/>
<path d="M461.50,237.40V234.90M535.20,237.40V234.90M608.90,237.40V234.90M682.60,237.40V234.90M461.50,163.00V165.50M535.20,163.00V165.50M608.90,163.00V165.50M682.60,163.00V165.50M456.90,237.40H459.40M456.90,212.60H459.40M456.90,187.80H459.40M456.90,163.00H459.40M683.50,237.40H681.00M683.50,212.60H681.00M683.50,187.80H681.00M683.50,163.00H681.00" stroke="#333" stroke-width="0.9" fill="none"/>
<path d="M457.59,252.00 L457.59,244.48 L456.93,244.48 C456.65,245.15 455.88,245.67 454.76,245.77 L454.76,246.46 C455.67,246.46 456.33,246.29 456.67,245.99 L456.67,252.00 Z" fill="#222"/><text x="460.01" y="252.00" font-size="10.7" fill="#222">.5</text>
<text x="532.23" y="252.00" font-size="10.7" fill="#222">2</text>
<text x="601.46" y="252.00" font-size="10.7" fill="#222">2.5</text>
<text x="679.63" y="252.00" font-size="10.7" fill="#222">3</text>
<text x="435.56" y="241.30" font-size="10.7" fill="#222">-0.</text><path d="M451.58,241.30 L451.58,233.78 L450.92,233.78 C450.64,234.45 449.87,234.97 448.75,235.07 L448.75,235.76 C449.66,235.76 450.32,235.59 450.66,235.29 L450.66,241.30 Z" fill="#222"/>
<text x="448.05" y="216.50" font-size="10.7" fill="#222">0</text>
<text x="439.13" y="191.70" font-size="10.7" fill="#222">0.</text><path d="M451.58,191.70 L451.58,184.18 L450.92,184.18 C450.64,184.85 449.87,185.37 448.75,185.47 L448.75,186.16 C449.66,186.16 450.32,185.99 450.66,185.69 L450.66,191.70 Z" fill="#222"/>
<text x="439.13" y="166.90" font-size="10.7" fill="#222">0.2</text>
<text x="558.9" y="262.2" font-size="16.5" class="sr it" fill="#000">t</text>
<g transform="translate(428.6,227.8) rotate(-90)" fill="#000"><text x="-0.8" y="0" font-size="14.5" class="sr it">F</text><text x="10.3" y="3.6" font-size="10" class="sr it">exp</text><path d="M27.1,-3.9 H33.9" stroke="#000" stroke-width="0.9"/><text x="37.6" y="0" font-size="14.5" class="sr it">F</text><text x="47.8" y="3.6" font-size="10" class="sr it">fit</text><path d="M1.5,-11.3 H8.8 M40,-11.3 H47.2" stroke="#000" stroke-width="0.8"/></g>
<path d="M185.1,530.6 L213,504.9 M262,460.2 L284.2,431" stroke="#000" stroke-width="1.45"/>
<text x="162.4" y="514.2" font-size="16" class="sr it" fill="#111">λ</text><path d="M174.4,509.4 H183.1" stroke="#111" stroke-width="0.9"/><text x="186.6" y="514.2" font-size="16" class="sr it" fill="#111">α</text>
<text x="233.4" y="442.6" font-size="16" class="sr it" fill="#111">λ</text><path d="M244.8,438.9 H253.6" stroke="#111" stroke-width="0.9"/><text x="257.2" y="442.6" font-size="16" class="sr it" fill="#111">β</text>
<path d="M82.11,589.80V588.00 M82.11,405.40V407.20 M87.68,589.80V588.00 M87.68,405.40V407.20 M92.39,589.80V588.00 M92.39,405.40V407.20 M96.48,589.80V588.00 M96.48,405.40V407.20 M100.08,589.80V588.00 M100.08,405.40V407.20 M103.30,589.80V586.60 M103.30,405.40V408.60 M124.49,589.80V588.00 M124.49,405.40V407.20 M136.89,589.80V588.00 M136.89,405.40V407.20 M145.69,589.80V588.00 M145.69,405.40V407.20 M152.51,589.80V588.00 M152.51,405.40V407.20 M158.08,589.80V588.00 M158.08,405.40V407.20 M162.79,589.80V588.00 M162.79,405.40V407.20 M166.88,589.80V588.00 M166.88,405.40V407.20 M170.48,589.80V588.00 M170.48,405.40V407.20 M173.70,589.80V586.60 M173.70,405.40V408.60 M194.89,589.80V588.00 M194.89,405.40V407.20 M207.29,589.80V588.00 M207.29,405.40V407.20 M216.09,589.80V588.00 M216.09,405.40V407.20 M222.91,589.80V588.00 M222.91,405.40V407.20 M228.48,589.80V588.00 M228.48,405.40V407.20 M233.19,589.80V588.00 M233.19,405.40V407.20 M237.28,589.80V588.00 M237.28,405.40V407.20 M240.88,589.80V588.00 M240.88,405.40V407.20 M244.10,589.80V586.60 M244.10,405.40V408.60 M265.29,589.80V588.00 M265.29,405.40V407.20 M277.69,589.80V588.00 M277.69,405.40V407.20 M286.49,589.80V588.00 M286.49,405.40V407.20 M293.31,589.80V588.00 M293.31,405.40V407.20 M298.88,589.80V588.00 M298.88,405.40V407.20 M303.59,589.80V588.00 M303.59,405.40V407.20 M307.68,589.80V588.00 M307.68,405.40V407.20 M311.28,589.80V588.00 M311.28,405.40V407.20 M314.50,589.80V586.60 M314.50,405.40V408.60 M81.60,589.94H83.40 M316.00,589.94H314.20 M81.60,585.88H83.40 M316.00,585.88H314.20 M81.60,582.45H83.40 M316.00,582.45H314.20 M81.60,579.47H83.40 M316.00,579.47H314.20 M81.60,576.85H83.40 M316.00,576.85H314.20 M81.60,574.50H84.80 M316.00,574.50H312.80 M81.60,559.06H83.40 M316.00,559.06H314.20 M81.60,550.02H83.40 M316.00,550.02H314.20 M81.60,543.61H83.40 M316.00,543.61H314.20 M81.60,538.64H83.40 M316.00,538.64H314.20 M81.60,534.58H83.40 M316.00,534.58H314.20 M81.60,531.15H83.40 M316.00,531.15H314.20 M81.60,528.17H83.40 M316.00,528.17H314.20 M81.60,525.55H83.40 M316.00,525.55H314.20 M81.60,523.20H84.80 M316.00,523.20H312.80 M81.60,507.76H83.40 M316.00,507.76H314.20 M81.60,498.72H83.40 M316.00,498.72H314.20 M81.60,492.31H83.40 M316.00,492.31H314.20 M81.60,487.34H83.40 M316.00,487.34H314.20 M81.60,483.28H83.40 M316.00,483.28H314.20 M81.60,479.85H83.40 M316.00,479.85H314.20 M81.60,476.87H83.40 M316.00,476.87H314.20 M81.60,474.25H83.40 M316.00,474.25H314.20 M81.60,471.90H84.80 M316.00,471.90H312.80 M81.60,456.46H83.40 M316.00,456.46H314.20 M81.60,447.42H83.40 M316.00,447.42H314.20 M81.60,441.01H83.40 M316.00,441.01H314.20 M81.60,436.04H83.40 M316.00,436.04H314.20 M81.60,431.98H83.40 M316.00,431.98H314.20 M81.60,428.55H83.40 M316.00,428.55H314.20 M81.60,425.57H83.40 M316.00,425.57H314.20 M81.60,422.95H83.40 M316.00,422.95H314.20 M81.60,420.60H84.80 M316.00,420.60H312.80 M81.60,405.16H83.40 M316.00,405.16H314.20 " stroke="#262626" stroke-width="1.6" fill="none"/>
<path d="M81.6,405.4 H316.0 V589.8 H81.6 Z" stroke="#262626" stroke-width="2.6" fill="none"/>
<path d="M130.9,590.6 L294.5,444.9" stroke="#7E2F8E" stroke-width="2.0" stroke-dasharray="13.2,7.7" fill="none"/>
<path d="M174.3,591 L294.6,431.2" stroke="#77AC30" stroke-width="2.0" stroke-dasharray="13.2,7.7" fill="none"/>
<path d="M102.90,577.30 L116.00,577.30 L123.90,565.10 L130.90,560.70 L137.00,557.70 L141.40,556.70 L149.30,563.30 L155.40,561.90 L160.70,556.00 L165.10,555.40 L172.10,546.70 L176.50,543.20 L180.00,543.20 L184.30,537.90 L187.00,537.00 L190.50,531.80 L194.00,529.20 L198.40,526.50 L201.90,523.90 L204.50,522.50 L207.10,519.50 L210.00,516.80 L213.00,513.20 L216.00,510.50 L219.00,508.60 L222.10,505.90 L225.00,503.80 L228.10,501.40 L231.00,498.60 L234.10,495.40 L237.00,493.50 L240.20,490.90 L243.00,487.60 L246.20,484.80 L249.00,482.50 L252.20,479.60 L255.00,476.30 L258.20,472.80 L261.00,469.80 L264.30,466.00 L267.00,462.80 L270.30,459.20 L273.00,455.70 L276.30,451.70 L279.00,448.30 L282.40,444.10 L285.00,440.90 L288.40,436.60 L292.00,432.00 L296.90,425.60" stroke="#0072BD" stroke-width="3.0" fill="none" stroke-linejoin="round"/>
<path d="M86.89,631.70 L86.89,613.42 L85.28,613.42 C84.60,615.06 82.73,616.31 80.00,616.57 L80.00,618.23 C82.21,618.23 83.82,617.82 84.65,617.09 L84.65,631.70 Z" fill="#262626"/><text x="92.77" y="631.70" font-size="26" fill="#262626">0</text><text x="107.62" y="619.20" font-size="21" fill="#262626">-3</text>
<path d="M157.29,631.70 L157.29,613.42 L155.68,613.42 C155.00,615.06 153.13,616.31 150.40,616.57 L150.40,618.23 C152.61,618.23 154.22,617.82 155.05,617.09 L155.05,631.70 Z" fill="#262626"/><text x="163.17" y="631.70" font-size="26" fill="#262626">0</text><text x="178.02" y="619.20" font-size="21" fill="#262626">-2</text>
<path d="M227.69,631.70 L227.69,613.42 L226.08,613.42 C225.40,615.06 223.53,616.31 220.80,616.57 L220.80,618.23 C223.01,618.23 224.62,617.82 225.45,617.09 L225.45,631.70 Z" fill="#262626"/><text x="233.57" y="631.70" font-size="26" fill="#262626">0</text><text x="248.42" y="619.20" font-size="21" fill="#262626">-</text><path d="M262.34,619.20 L262.34,604.44 L261.04,604.44 C260.50,605.76 258.98,606.77 256.78,606.98 L256.78,608.32 C258.56,608.32 259.87,607.99 260.54,607.40 L260.54,619.20 Z" fill="#262626"/>
<path d="M301.59,631.70 L301.59,613.42 L299.97,613.42 C299.30,615.06 297.43,616.31 294.70,616.57 L294.70,618.23 C296.91,618.23 298.52,617.82 299.35,617.09 L299.35,631.70 Z" fill="#262626"/><text x="307.46" y="631.70" font-size="26" fill="#262626">0</text><text x="322.32" y="619.20" font-size="21" fill="#262626">0</text>
<path d="M41.29,434.50 L41.29,416.22 L39.68,416.22 C39.00,417.86 37.13,419.11 34.40,419.37 L34.40,421.03 C36.61,421.03 38.22,420.62 39.06,419.89 L39.06,434.50 Z" fill="#262626"/><text x="47.17" y="434.50" font-size="26" fill="#262626">0</text><path d="M69.75,422.00 L69.75,407.24 L68.45,407.24 C67.91,408.56 66.39,409.57 64.19,409.78 L64.19,411.12 C65.97,411.12 67.28,410.79 67.95,410.20 L67.95,422.00 Z" fill="#262626"/>
<path d="M41.29,485.80 L41.29,467.52 L39.68,467.52 C39.00,469.16 37.13,470.41 34.40,470.67 L34.40,472.33 C36.61,472.33 38.22,471.92 39.06,471.19 L39.06,485.80 Z" fill="#262626"/><text x="47.17" y="485.80" font-size="26" fill="#262626">0</text><text x="62.82" y="473.30" font-size="21" fill="#262626">0</text>
<path d="M34.30,537.10 L34.30,518.82 L32.69,518.82 C32.01,520.46 30.14,521.71 27.41,521.97 L27.41,523.63 C29.62,523.63 31.23,523.22 32.06,522.49 L32.06,537.10 Z" fill="#262626"/><text x="40.17" y="537.10" font-size="26" fill="#262626">0</text><text x="55.83" y="524.60" font-size="21" fill="#262626">-</text><path d="M69.75,524.60 L69.75,509.84 L68.45,509.84 C67.91,511.16 66.39,512.17 64.19,512.38 L64.19,513.72 C65.97,513.72 67.28,513.39 67.95,512.80 L67.95,524.60 Z" fill="#262626"/>
<path d="M34.30,588.40 L34.30,570.12 L32.69,570.12 C32.01,571.76 30.14,573.01 27.41,573.27 L27.41,574.93 C29.62,574.93 31.23,574.52 32.06,573.79 L32.06,588.40 Z" fill="#262626"/><text x="40.17" y="588.40" font-size="26" fill="#262626">0</text><text x="55.83" y="575.90" font-size="21" fill="#262626">-2</text>
<path d="M94.9,429 H133.9" stroke="#0072BD" stroke-width="3.0"/>
<path d="M94.9,457.4 H128.8" stroke="#77AC30" stroke-width="2.0" stroke-dasharray="13,7.8"/>
<path d="M94.9,485.6 H128.8" stroke="#7E2F8E" stroke-width="2.0" stroke-dasharray="13,7.8"/>
<text x="137" y="438" font-size="23" fill="#000">exp.</text><text x="137" y="466.2" font-size="23" fill="#000">lo</text><text x="137" y="494.4" font-size="23" fill="#000">hi</text>
<text x="275" y="571" font-size="21.5" fill="#000">(d)</text>
<text transform="translate(20.8,517.6) rotate(-90)" font-size="25" class="sr it" fill="#000">F<tspan font-style="normal">(</tspan>t<tspan font-style="normal">)</tspan></text>
<path d="M1.1,504 V511.7" stroke="#000" stroke-width="1.6"/>
<text x="175.6" y="655.7" font-size="25" class="sr it" fill="#000">t</text><path d="M192.1,647.6 H207.9" stroke="#000" stroke-width="1.3"/><text x="216.4" y="655.7" font-size="25" class="sr it" fill="#000">t</text><text x="223" y="661.5" font-size="20" class="sr it" fill="#000">c</text>
<path d="M592,476.8 L607.4,501.4" stroke="#000" stroke-width="1.4"/>
<text x="604.5" y="487.5" font-size="16" class="sr it" fill="#111">β</text>
<path d="M400.39,589.80V588.00 M400.39,405.40V407.20 M405.99,589.80V588.00 M405.99,405.40V407.20 M410.73,589.80V588.00 M410.73,405.40V407.20 M414.84,589.80V588.00 M414.84,405.40V407.20 M418.46,589.80V588.00 M418.46,405.40V407.20 M421.70,589.80V586.60 M421.70,405.40V408.60 M443.01,589.80V588.00 M443.01,405.40V407.20 M455.48,589.80V588.00 M455.48,405.40V407.20 M464.33,589.80V588.00 M464.33,405.40V407.20 M471.19,589.80V588.00 M471.19,405.40V407.20 M476.79,589.80V588.00 M476.79,405.40V407.20 M481.53,589.80V588.00 M481.53,405.40V407.20 M485.64,589.80V588.00 M485.64,405.40V407.20 M489.26,589.80V588.00 M489.26,405.40V407.20 M492.50,589.80V586.60 M492.50,405.40V408.60 M513.81,589.80V588.00 M513.81,405.40V407.20 M526.28,589.80V588.00 M526.28,405.40V407.20 M535.13,589.80V588.00 M535.13,405.40V407.20 M541.99,589.80V588.00 M541.99,405.40V407.20 M547.59,589.80V588.00 M547.59,405.40V407.20 M552.33,589.80V588.00 M552.33,405.40V407.20 M556.44,589.80V588.00 M556.44,405.40V407.20 M560.06,589.80V588.00 M560.06,405.40V407.20 M563.30,589.80V586.60 M563.30,405.40V408.60 M584.61,589.80V588.00 M584.61,405.40V407.20 M597.08,589.80V588.00 M597.08,405.40V407.20 M605.93,589.80V588.00 M605.93,405.40V407.20 M612.79,589.80V588.00 M612.79,405.40V407.20 M618.39,589.80V588.00 M618.39,405.40V407.20 M623.13,589.80V588.00 M623.13,405.40V407.20 M627.24,589.80V588.00 M627.24,405.40V407.20 M630.86,589.80V588.00 M630.86,405.40V407.20 M634.10,589.80V586.60 M634.10,405.40V408.60 M400.60,590.00H403.80 M634.50,590.00H631.30 M400.60,577.68H402.40 M634.50,577.68H632.70 M400.60,565.83H402.40 M634.50,565.83H632.70 M400.60,554.42H402.40 M634.50,554.42H632.70 M400.60,543.40H402.40 M634.50,543.40H632.70 M400.60,532.75H403.80 M634.50,532.75H631.30 M400.60,522.46H402.40 M634.50,522.46H632.70 M400.60,512.49H402.40 M634.50,512.49H632.70 M400.60,502.83H402.40 M634.50,502.83H632.70 M400.60,493.45H402.40 M634.50,493.45H632.70 M400.60,484.35H403.80 M634.50,484.35H631.30 M400.60,475.50H402.40 M634.50,475.50H632.70 M400.60,466.90H402.40 M634.50,466.90H632.70 M400.60,458.53H402.40 M634.50,458.53H632.70 M400.60,450.37H402.40 M634.50,450.37H632.70 M400.60,442.42H403.80 M634.50,442.42H631.30 M400.60,434.67H402.40 M634.50,434.67H632.70 M400.60,427.10H402.40 M634.50,427.10H632.70 M400.60,419.71H402.40 M634.50,419.71H632.70 M400.60,412.49H402.40 M634.50,412.49H632.70 M400.60,405.44H403.80 M634.50,405.44H631.30 " stroke="#262626" stroke-width="1.6" fill="none"/>
<path d="M400.6,405.4 H634.5 V589.8 H400.6 Z" stroke="#262626" stroke-width="2.6" fill="none"/>
<path d="M545.4,404.8 L634.2,559.3" stroke="#77AC30" stroke-width="2.0" stroke-dasharray="13.2,7.7" fill="none"/>
<path d="M400.60,435.79 L401.67,436.02 L402.74,436.23 L403.80,436.71 L404.87,436.13 L405.94,435.93 L407.01,435.94 L408.08,436.07 L409.14,435.92 L410.21,435.66 L411.28,435.50 L412.35,435.67 L413.42,435.88 L414.48,436.33 L415.55,436.55 L416.62,436.40 L417.69,436.30 L418.76,436.02 L419.82,435.90 L420.89,435.73 L421.96,435.65 L423.03,435.76 L424.10,435.86 L425.16,436.02 L426.23,436.06 L427.30,436.28 L428.37,436.20 L429.44,435.87 L430.51,435.63 L431.57,436.07 L432.64,436.58 L433.71,436.71 L434.78,436.40 L435.85,436.30 L436.91,436.33 L437.98,436.45 L439.05,436.63 L440.12,436.96 L441.19,436.92 L442.25,436.81 L443.32,436.61 L444.39,436.73 L445.46,437.02 L446.53,437.01 L447.59,437.43 L448.66,437.42 L449.73,437.80 L450.80,437.36 L451.87,437.29 L452.93,437.10 L454.00,437.35 L455.07,437.16 L456.14,437.43 L457.21,437.24 L458.27,437.75 L459.34,437.94 L460.41,438.33 L461.48,438.35 L462.55,438.27 L463.61,438.37 L464.68,438.56 L465.75,438.87 L466.82,439.14 L467.89,439.48 L468.95,439.48 L470.02,439.43 L471.09,439.24 L472.16,439.16 L473.23,439.34 L474.29,439.47 L475.36,440.14 L476.43,440.46 L477.50,441.03 L478.57,440.60 L479.63,440.74 L480.70,440.81 L481.77,441.42 L482.84,441.53 L483.91,441.63 L484.97,441.83 L486.04,442.18 L487.11,442.45 L488.18,442.85 L489.25,443.12 L490.32,443.39 L491.38,443.50 L492.45,443.81 L493.52,443.92 L494.59,444.29 L495.66,444.45 L496.72,445.00 L497.79,445.11 L498.86,445.46 L499.93,445.60 L501.00,445.84 L502.06,446.35 L503.13,446.77 L504.20,447.28 L505.27,447.65 L506.34,447.88 L507.40,448.22 L508.47,448.55 L509.54,449.37 L510.61,449.75 L511.68,450.20 L512.74,450.20 L513.81,450.42 L514.88,450.61 L515.95,451.17 L517.02,451.71 L518.08,452.09 L519.15,452.09 L520.22,452.07 L521.29,452.41 L522.36,452.73 L523.42,453.48 L524.49,453.71 L525.56,454.37 L526.63,454.92 L527.70,455.15 L528.76,455.51 L529.83,455.76 L530.90,456.69 L531.97,457.16 L533.04,457.49 L534.10,457.62 L535.17,458.37 L536.24,458.83 L537.31,459.41 L538.38,459.65 L539.44,460.10 L540.51,460.46 L541.58,460.61 L542.65,461.19 L543.72,461.98 L544.78,462.90 L545.85,463.31 L546.92,464.02 L547.99,464.36 L549.06,465.13 L550.13,465.78 L551.19,466.71 L552.26,467.51 L553.33,468.15 L554.40,468.74 L555.47,469.50 L556.53,469.87 L557.60,470.58 L558.67,471.24 L559.74,472.27 L560.81,472.95 L561.87,473.74 L562.94,474.04 L564.01,474.73 L565.08,475.78 L566.15,477.00 L567.21,478.17 L568.28,479.12 L569.35,480.11 L570.42,481.16 L571.49,482.00 L572.55,482.71 L573.62,483.78 L574.69,485.04 L575.76,486.54 L576.83,487.41 L577.89,488.16 L578.96,488.99 L580.03,490.19 L581.10,491.31 L582.17,492.16 L583.23,492.86 L584.30,493.61 L585.37,494.57 L586.44,495.50 L587.51,496.53 L588.57,497.26 L589.64,498.48 L590.71,499.50 L591.78,500.79 L592.85,501.81 L593.91,502.91 L594.98,504.47 L596.05,505.51 L597.12,506.86 L598.19,507.96 L599.25,509.25 L600.32,510.30 L601.39,511.56 L602.46,512.91 L603.53,514.24 L604.59,515.24 L605.66,516.71 L606.73,518.43 L607.80,519.91 L608.87,521.23 L609.94,522.50 L611.00,524.10 L612.07,525.28 L613.14,526.56 L614.21,527.89 L615.28,529.81 L616.34,531.17 L617.41,532.66 L618.48,533.83 L619.55,535.37 L620.62,536.54 L621.68,537.99 L622.75,539.68 L623.82,541.13 L624.89,542.50 L625.96,543.52 L627.02,545.05 L628.09,546.53 L629.16,548.25 L630.23,549.64 L631.30,551.04 L632.36,552.38 L633.43,554.06 L634.50,554.86" stroke="#0072BD" stroke-width="3.0" fill="none" stroke-linejoin="round"/>
<path d="M400.60,434.30 L402.17,434.31 L403.73,434.32 L405.30,434.34 L406.87,434.36 L408.43,434.39 L410.00,434.42 L411.57,434.46 L413.13,434.50 L414.70,434.54 L416.26,434.58 L417.83,434.63 L419.40,434.67 L420.96,434.72 L422.53,434.77 L424.10,434.82 L425.66,434.88 L427.23,434.94 L428.80,435.02 L430.36,435.09 L431.93,435.18 L433.50,435.27 L435.06,435.36 L436.63,435.46 L438.19,435.57 L439.76,435.67 L441.33,435.79 L442.89,435.90 L444.46,436.02 L446.03,436.15 L447.59,436.27 L449.16,436.41 L450.73,436.55 L452.29,436.71 L453.86,436.87 L455.43,437.05 L456.99,437.23 L458.56,437.41 L460.12,437.61 L461.69,437.81 L463.26,438.02 L464.82,438.24 L466.39,438.46 L467.96,438.68 L469.52,438.91 L471.09,439.15 L472.66,439.40 L474.22,439.66 L475.79,439.94 L477.36,440.22 L478.92,440.52 L480.49,440.82 L482.06,441.14 L483.62,441.46 L485.19,441.80 L486.75,442.14 L488.32,442.49 L489.89,442.85 L491.45,443.21 L493.02,443.58 L494.59,443.97 L496.15,444.36 L497.72,444.77 L499.29,445.20 L500.85,445.64 L502.42,446.09 L503.99,446.55 L505.55,447.03 L507.12,447.51 L508.68,448.01 L510.25,448.51 L511.82,449.02 L513.38,449.54 L514.95,450.07 L516.52,450.60 L518.08,451.14 L519.65,451.69 L521.22,452.24 L522.78,452.80 L524.35,453.38 L525.92,453.96 L527.48,454.56 L529.05,455.17 L530.61,455.79 L532.18,456.43 L533.75,457.09 L535.31,457.77 L536.88,458.46 L538.45,459.18 L540.01,459.91 L541.58,460.67 L543.15,461.46 L544.71,462.27 L546.28,463.11 L547.85,463.98 L549.41,464.87 L550.98,465.80 L552.54,466.75 L554.11,467.74 L555.68,468.75 L557.24,469.79 L558.81,470.87 L560.38,471.97 L561.94,473.14 L563.51,474.40 L565.08,475.71 L566.64,477.08 L568.21,478.48 L569.78,479.91 L571.34,481.36 L572.91,482.81 L574.48,484.24 L576.04,485.66 L577.61,487.07 L579.17,488.47 L580.74,489.89 L582.31,491.31 L583.87,492.75 L585.44,494.20 L587.01,495.69 L588.57,497.21 L590.14,498.76 L591.71,500.36 L593.27,502.01 L594.84,503.71 L596.41,505.46 L597.97,507.26 L599.54,509.10 L601.10,510.98 L602.67,512.89 L604.24,514.83 L605.80,516.79 L607.37,518.78 L608.94,520.78 L610.50,522.79 L612.07,524.82 L613.64,526.89 L615.20,528.98 L616.77,531.11 L618.34,533.27 L619.90,535.46 L621.47,537.70 L623.03,539.98 L624.60,542.30 L626.17,544.68 L627.73,547.12 L629.30,549.62 L630.87,552.17 L632.43,554.76 L634.00,557.40" stroke="#E8111A" stroke-width="2.3" fill="none" stroke-linejoin="round"/>
<path d="M405.29,631.70 L405.29,613.42 L403.68,613.42 C403.00,615.06 401.13,616.31 398.40,616.57 L398.40,618.23 C400.61,618.23 402.22,617.82 403.05,617.09 L403.05,631.70 Z" fill="#262626"/><text x="411.17" y="631.70" font-size="26" fill="#262626">0</text><text x="426.02" y="619.20" font-size="21" fill="#262626">-3</text>
<path d="M476.09,631.70 L476.09,613.42 L474.48,613.42 C473.80,615.06 471.93,616.31 469.20,616.57 L469.20,618.23 C471.41,618.23 473.02,617.82 473.85,617.09 L473.85,631.70 Z" fill="#262626"/><text x="481.97" y="631.70" font-size="26" fill="#262626">0</text><text x="496.82" y="619.20" font-size="21" fill="#262626">-2</text>
<path d="M546.89,631.70 L546.89,613.42 L545.28,613.42 C544.60,615.06 542.73,616.31 540.00,616.57 L540.00,618.23 C542.21,618.23 543.82,617.82 544.65,617.09 L544.65,631.70 Z" fill="#262626"/><text x="552.77" y="631.70" font-size="26" fill="#262626">0</text><text x="567.62" y="619.20" font-size="21" fill="#262626">-</text><path d="M581.54,619.20 L581.54,604.44 L580.24,604.44 C579.70,605.76 578.18,606.77 575.98,606.98 L575.98,608.32 C577.76,608.32 579.07,607.99 579.74,607.40 L579.74,619.20 Z" fill="#262626"/>
<path d="M621.19,631.70 L621.19,613.42 L619.57,613.42 C618.90,615.06 617.03,616.31 614.30,616.57 L614.30,618.23 C616.51,618.23 618.12,617.82 618.95,617.09 L618.95,631.70 Z" fill="#262626"/><text x="627.06" y="631.70" font-size="26" fill="#262626">0</text><text x="641.92" y="619.20" font-size="21" fill="#262626">0</text>
<text x="376.04" y="415.04" font-size="26" fill="#262626">9</text>
<text x="376.04" y="452.02" font-size="26" fill="#262626">8</text>
<text x="376.04" y="493.95" font-size="26" fill="#262626">7</text>
<text x="376.04" y="542.35" font-size="26" fill="#262626">6</text>
<text x="376.04" y="599.60" font-size="26" fill="#262626">5</text>
<path d="M414,509 H451.9" stroke="#0072BD" stroke-width="3.0"/>
<path d="M414,537.4 H451.9" stroke="#E8111A" stroke-width="2.2"/>
<path d="M414,566.2 H451.9" stroke="#77AC30" stroke-width="2.0" stroke-dasharray="13,7.8"/>
<text x="455.5" y="518" font-size="23" fill="#000">exp.</text><text x="455.5" y="546.4" font-size="23" fill="#000">fit</text><text x="455.5" y="575" font-size="23" fill="#000">lo</text>
<text x="594" y="571.5" font-size="21.5" fill="#000">(e)</text>
<text transform="translate(360.4,517.4) rotate(-90)" font-size="25" class="sr it" fill="#000">F<tspan font-style="normal">(</tspan>t<tspan font-style="normal">)</tspan></text>
<path d="M340.6,504 V511.3" stroke="#000" stroke-width="1.5"/>
<text x="493.3" y="655.7" font-size="25" class="sr it" fill="#000">t</text><path d="M509.2,647.6 H525.5" stroke="#000" stroke-width="1.3"/><text x="534.7" y="655.7" font-size="25" class="sr it" fill="#000">t</text><text x="541.5" y="661.5" font-size="20" class="sr it" fill="#000">l</text>
</svg></body></html>
